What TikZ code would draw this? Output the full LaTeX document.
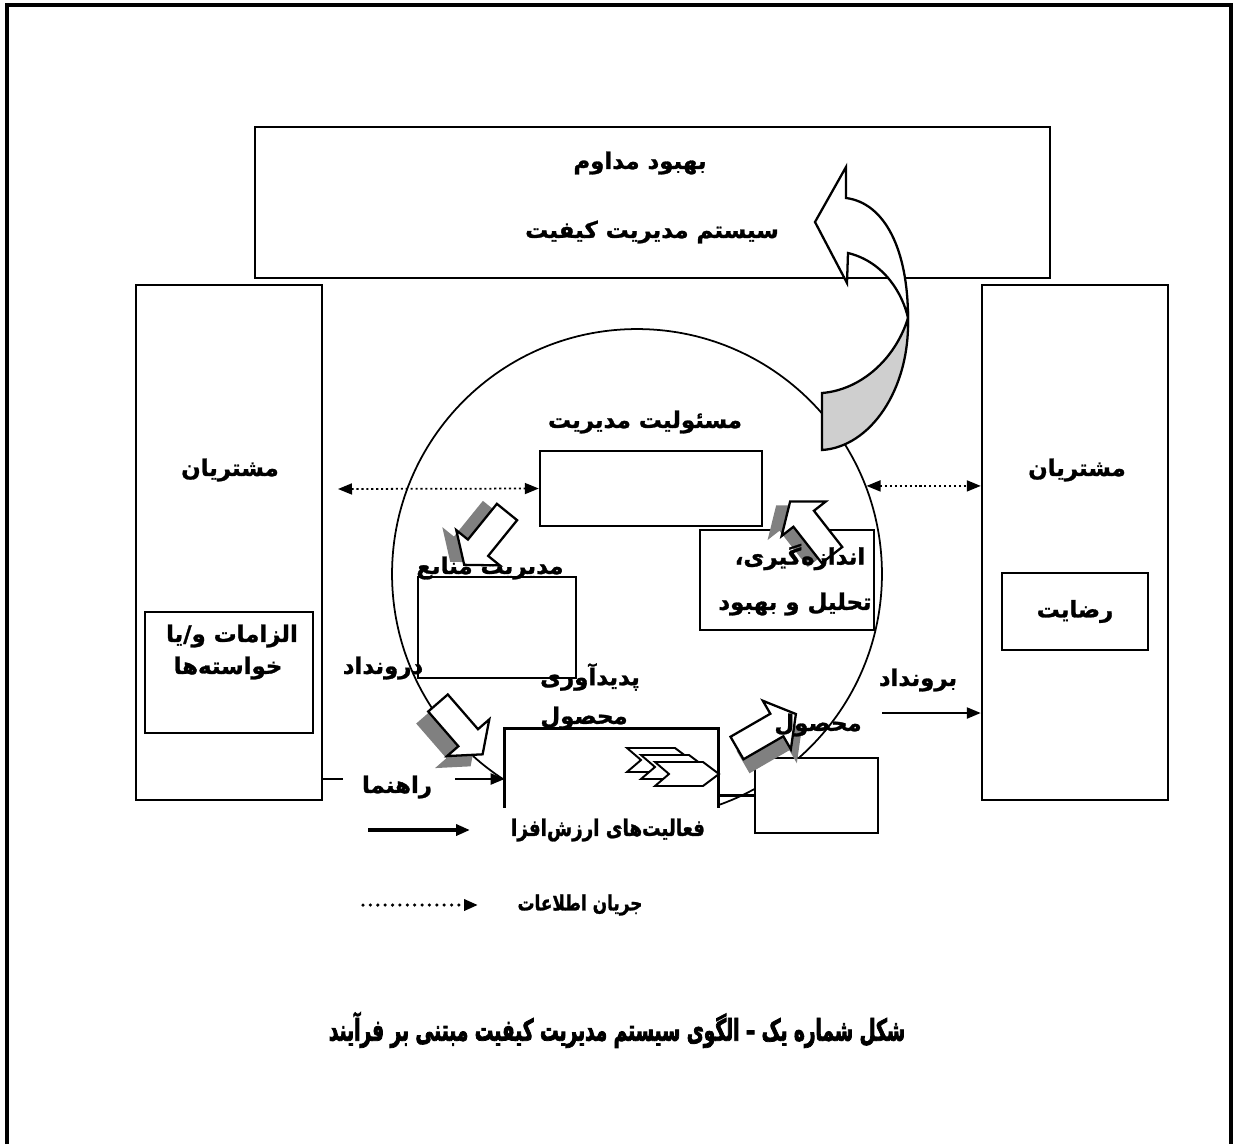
\documentclass[tikz,border=0pt]{standalone}
\usepackage{fontspec}
\usetikzlibrary{positioning,arrows.meta}
\TeXXeTstate=1
\newfontfamily\persianfont[Script=Arabic,FakeBold=1.2]{DejaVu Sans}
\newfontfamily\legendfont[Script=Arabic,FakeStretch=0.8,FakeBold=1.2]{DejaVu Sans}
\newfontfamily\captionfont[Script=Arabic,FakeStretch=0.62,FakeBold=2.5]{DejaVu Sans}
\newcommand{\fatxt}[1]{\beginR#1\endR}
\definecolor{shadowgray}{HTML}{808080}
\definecolor{curvegray}{HTML}{CFCFCF}
% hollow block arrow with a grey shadow: tail x, tail y, angle, shadow dx, shadow dy
\newcommand{\blockarrow}[5]{%
  \fill[shadowgray,shift={({#1+#4},{#2+#5})},rotate=#3] (0,-13) -- (46,-13) -- (46,-28) -- (68,0) -- (46,28) -- (46,13) -- (0,13) -- cycle;
  \draw[line width=1.3pt,fill=white,shift={(#1,#2)},rotate=#3] (0,-13) -- (46,-13) -- (46,-28) -- (68,0) -- (46,28) -- (46,13) -- (0,13) -- cycle;}
\tikzset{
  box/.style={draw,line width=1.4pt,fill=white,inner sep=0pt},
  lbl/.style={font=\persianfont\bfseries\fontsize{13}{15}\selectfont,inner sep=0pt},
  lgd/.style={font=\legendfont\bfseries\fontsize{13}{15}\selectfont,inner sep=0pt},
  tip/.style={-{Triangle[length=0.28cm,width=0.22cm]}},
  info/.style={line width=1pt,dash pattern=on 1.2pt off 1.6pt,{Triangle[length=0.28cm,width=0.22cm]}-{Triangle[length=0.28cm,width=0.22cm]}},
  flow/.style={line width=1.3pt,tip},
}
\begin{document}
\begin{tikzpicture}[x=0.02cm,y=-0.02cm]
\useasboundingbox (0,0) rectangle (1235,1144);
\draw[line width=1.8pt] (7,1144) -- (7,5) -- (1231,5) -- (1231,1144);

% frame boxes
\node (top) [box,minimum width=15.9cm,minimum height=3.02cm] at (652.5,202.5) {};
\node (custL) [box,minimum width=3.72cm,minimum height=10.3cm] at (229,542.5) {};
\node (custR) [box,minimum width=3.72cm,minimum height=10.3cm] at (1075,542.5) {};
\node (req) [box,minimum width=3.36cm,minimum height=2.42cm] at (229,672.5) {};
\node (sat) [box,lbl,minimum width=2.92cm,minimum height=1.54cm] at (1075,611.5) {\fatxt{رضایت}};

% process cycle
\node (cyc) [draw,circle,line width=1pt,minimum size=9.8cm,inner sep=0pt] at (637,574) {};
\node (mgmt) [box,minimum width=4.44cm,minimum height=1.5cm] at (651,488.5) {};
\node (res) [box,minimum width=3.16cm,minimum height=2.02cm] at (497,627.5) {};
\node (meas) [box,minimum width=3.48cm,minimum height=2cm] at (787,580) {};
\node (real) [fill=white,inner sep=0pt,minimum width=4.26cm,minimum height=1.58cm] at (611.5,768.5) {};
\draw[line width=1.4pt] (real.south west) -- (real.north west) -- (real.north east) -- (real.south east);
\node (out) [box,minimum width=2.46cm,minimum height=1.5cm] at (816.5,795.5) {};
\draw[line width=1.4pt] (real.east|-out.west) -- (out.west);

% chevrons inside product realization
\foreach \cx/\cy in {627/748, 641/755, 655/762}
  \draw[line width=1.1pt,fill=white] (\cx,\cy) -- (\cx+48,\cy) -- (\cx+64,\cy+12) -- (\cx+48,\cy+24) -- (\cx,\cy+24) -- (\cx+14,\cy+12) -- cycle;

% block arrows round the cycle
\blockarrow{507}{512}{231}{-14}{-3}
\blockarrow{832}{555}{128}{-14}{4}
\blockarrow{438}{703}{311}{-12}{12}
\blockarrow{737}{748}{30}{6}{14}

% improvement arrow
\fill[curvegray,draw=black,line width=1.3pt] (822,393) .. controls (860,390) and (895,360) .. (908,318)
  .. controls (910,390) and (870,447) .. (822,450) -- cycle;
\draw[line width=1.3pt,fill=white] (846,198) .. controls (885,203) and (908,250) .. (908,318)
  .. controls (903,295) and (885,262) .. (848,253) -- (847,283) -- (815,222) -- (846,167) -- cycle;

% information flow
\coordinate (iL) at (338,489);
\draw[info] (iL) -- (mgmt.west);
\draw[info] (cyc.21) -- (custR.west|-cyc.21);
\coordinate (g1) at (343,779);
\coordinate (g2) at (455,779);
\draw[line width=1.3pt] (custL.east|-g1) -- (g1);
\draw[flow] (g2) -- (real.west|-g2);
\coordinate (o1) at (882,713);
\draw[flow] (o1) -- (custR.west|-o1);

% labels
\node (t1) [lbl] at (640,163) {\fatxt{بهبود مداوم}};
\node (t2) [lbl] at (652,232) {\fatxt{سیستم مدیریت کیفیت}};
\node (cL) [lbl] at (230,470) {\fatxt{مشتریان}};
\node (cR) [lbl] at (1077,470) {\fatxt{مشتریان}};
\node (rq1) [lbl] at (232,636) {\fatxt{الزامات و/یا}};
\node (rq2) [lbl] at (228,668) {\fatxt{خواسته^^^^200cها}};
\node (mg) [lbl] at (645,422) {\fatxt{مسئولیت مدیریت}};
\node (rs) [lbl] at (490,568) {\fatxt{مدیریت منابع}};
\node (ms1) [lbl] at (800,557) {\fatxt{اندازه^^^^200cگیری،}};
\node (ms2) [lbl] at (795,604) {\fatxt{تحلیل و بهبود}};
\node (in) [lbl] at (383,668) {\fatxt{درونداد}};
\node (pr1) [lbl] at (590,677) {\fatxt{پدیدآوری}};
\node (pr2) [lbl] at (584,718) {\fatxt{محصول}};
\node (pr3) [lbl] at (818,725) {\fatxt{محصول}};
\node (ou) [lbl] at (918,680) {\fatxt{برونداد}};
\node (lg) [lbl] at (397,787) {\fatxt{راهنما}};

% legend
\coordinate (a1) at (368,830);
\coordinate (a2) at (470,830);
\draw[line width=2pt,tip] (a1) -- (a2);
\node (va) [lgd,fill=white,minimum width=4.8cm,minimum height=0.88cm] at (608,830) {\fatxt{فعالیت^^^^200cهای ارزش^^^^200cافزا}};
\coordinate (d1) at (363,905);
\coordinate (d2) at (478,905);
\draw[line width=2pt,line cap=round,dash pattern=on 0pt off 4.2pt,tip] (d1) -- (d2);
\node (if) [lgd,font=\legendfont\bfseries\fontsize{12}{14}\selectfont] at (580,905) {\fatxt{جریان اطلاعات}};

\node (cap) [inner sep=0pt,font=\captionfont\bfseries\fontsize{17}{20}\selectfont] at (617,1030) {\fatxt{شکل شماره یک – الگوی سیستم مدیریت کیفیت مبتنی بر فرآیند}};
\end{tikzpicture}
\end{document}
